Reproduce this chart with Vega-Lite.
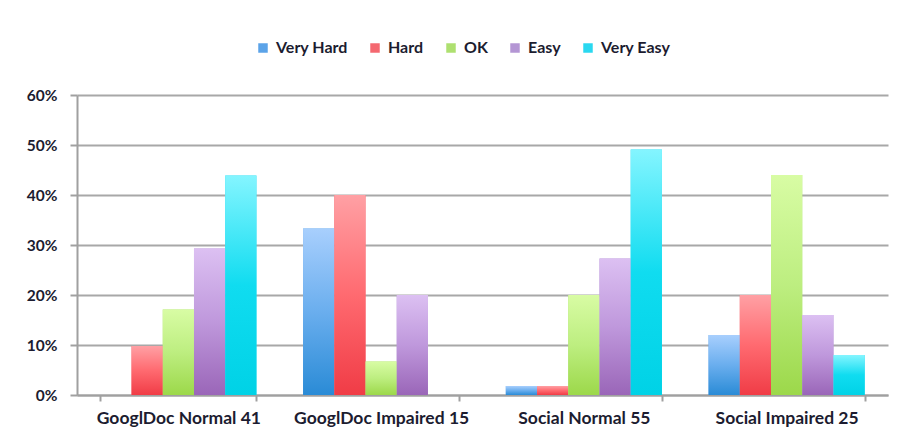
{
  "$schema": "https://vega.github.io/schema/vega-lite/v6.json",
  "width": 811,
  "height": 300,
  "autosize": {"type": "none"},
  "padding": {"left": 77, "top": 95, "right": 11, "bottom": 44},
  "background": "white",
  "config": {
    "view": {"stroke": null},
    "font": "Lato"
  },
  "data": {
    "values": [
      {"group": "GooglDoc Normal 41", "rating": "Very Hard", "pct": 0},
      {"group": "GooglDoc Normal 41", "rating": "Hard", "pct": 0.098},
      {"group": "GooglDoc Normal 41", "rating": "OK", "pct": 0.171},
      {"group": "GooglDoc Normal 41", "rating": "Easy", "pct": 0.293},
      {"group": "GooglDoc Normal 41", "rating": "Very Easy", "pct": 0.439},
      {"group": "GooglDoc Impaired 15", "rating": "Very Hard", "pct": 0.333},
      {"group": "GooglDoc Impaired 15", "rating": "Hard", "pct": 0.4},
      {"group": "GooglDoc Impaired 15", "rating": "OK", "pct": 0.067},
      {"group": "GooglDoc Impaired 15", "rating": "Easy", "pct": 0.2},
      {"group": "GooglDoc Impaired 15", "rating": "Very Easy", "pct": 0},
      {"group": "Social Normal 55", "rating": "Very Hard", "pct": 0.018},
      {"group": "Social Normal 55", "rating": "Hard", "pct": 0.018},
      {"group": "Social Normal 55", "rating": "OK", "pct": 0.2},
      {"group": "Social Normal 55", "rating": "Easy", "pct": 0.273},
      {"group": "Social Normal 55", "rating": "Very Easy", "pct": 0.491},
      {"group": "Social Impaired 25", "rating": "Very Hard", "pct": 0.12},
      {"group": "Social Impaired 25", "rating": "Hard", "pct": 0.2},
      {"group": "Social Impaired 25", "rating": "OK", "pct": 0.44},
      {"group": "Social Impaired 25", "rating": "Easy", "pct": 0.16},
      {"group": "Social Impaired 25", "rating": "Very Easy", "pct": 0.08}
    ]
  },
  "encoding": {
    "x": {
      "field": "group",
      "type": "nominal",
      "sort": ["GooglDoc Normal 41", "GooglDoc Impaired 15", "Social Normal 55", "Social Impaired 25"],
      "scale": {"paddingInner": 0.23, "paddingOuter": 0.115},
      "axis": {
        "title": null,
        "labelAngle": 0,
        "labelFont": "Lato",
        "labelFontWeight": "bold",
        "labelFontSize": 17.5,
        "labelColor": "#1c1c30",
        "labelPadding": 8,
        "tickBand": "extent",
        "tickSize": 6,
        "tickColor": "#a0a0a0",
        "tickWidth": 2,
        "domainColor": "#a0a0a0",
        "domainWidth": 2,
        "grid": false
      }
    },
    "xOffset": {
      "field": "rating",
      "type": "nominal",
      "sort": ["Very Hard", "Hard", "OK", "Easy", "Very Easy"]
    },
    "y": {
      "field": "pct",
      "type": "quantitative",
      "scale": {"domain": [0, 0.6]},
      "axis": {
        "title": null,
        "format": ".0%",
        "values": [0, 0.1, 0.2, 0.3, 0.4, 0.5, 0.6],
        "labelFont": "Lato",
        "labelFontWeight": "bold",
        "labelFontSize": 15.5,
        "labelColor": "#1c1c30",
        "labelPadding": 13,
        "tickSize": 7,
        "tickColor": "#a0a0a0",
        "tickWidth": 2,
        "domainColor": "#a0a0a0",
        "domainWidth": 2,
        "grid": true,
        "gridColor": "#a8a8a8",
        "gridWidth": 2
      }
    }
  },
  "layer": [
    {
      "mark": {"type": "bar"},
      "encoding": {
        "color": {
          "field": "rating",
          "type": "nominal",
          "scale": {
            "domain": ["Very Hard", "Hard", "OK", "Easy", "Very Easy"],
            "range": ["#5ba3e8", "#f46870", "#aee070", "#b496d4", "#2ad8f0"]
          },
          "legend": {
            "title": null,
            "orient": "none",
            "legendX": 178,
            "legendY": -55,
            "direction": "horizontal",
            "symbolType": "square",
            "symbolSize": 90,
            "symbolStrokeWidth": 0,
            "labelFont": "Lato",
            "labelFontWeight": "bold",
            "labelFontSize": 16,
            "labelColor": "#1c1c30",
            "labelOffset": 5,
            "columnPadding": 19
          }
        }
      }
    },
    {
      "mark": {"type": "bar"},
      "encoding": {
        "color": {
          "condition": [
            {"test": "datum.rating === 'Very Hard'", "value": {"gradient": "linear", "x1": 0, "y1": 0, "x2": 0, "y2": 1, "stops": [{"offset": 0, "color": "#a8cffd"}, {"offset": 0.5, "color": "#6aaeee"}, {"offset": 1, "color": "#2a8bd6"}]}},
            {"test": "datum.rating === 'Hard'", "value": {"gradient": "linear", "x1": 0, "y1": 0, "x2": 0, "y2": 1, "stops": [{"offset": 0, "color": "#ffa0a4"}, {"offset": 0.5, "color": "#ff6a70"}, {"offset": 1, "color": "#f03c46"}]}},
            {"test": "datum.rating === 'OK'", "value": {"gradient": "linear", "x1": 0, "y1": 0, "x2": 0, "y2": 1, "stops": [{"offset": 0, "color": "#d8fca4"}, {"offset": 0.5, "color": "#bdee80"}, {"offset": 1, "color": "#9cd84a"}]}},
            {"test": "datum.rating === 'Easy'", "value": {"gradient": "linear", "x1": 0, "y1": 0, "x2": 0, "y2": 1, "stops": [{"offset": 0, "color": "#dcc0f2"}, {"offset": 0.5, "color": "#bf98dc"}, {"offset": 1, "color": "#9a66b8"}]}}
          ],
          "value": {"gradient": "linear", "x1": 0, "y1": 0, "x2": 0, "y2": 1, "stops": [{"offset": 0, "color": "#84f5ff"}, {"offset": 0.5, "color": "#10dcf0"}, {"offset": 1, "color": "#00d2e6"}]}
        }
      }
    }
  ]
}
